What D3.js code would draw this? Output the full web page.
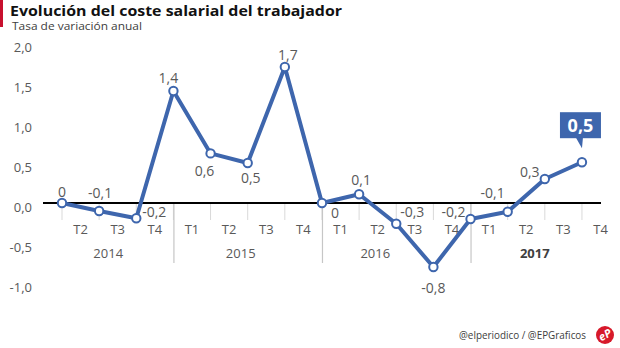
<!DOCTYPE html>
<html><head><meta charset="utf-8">
<script src="https://cdn.jsdelivr.net/npm/d3@7"></script>
<style>html,body{margin:0;padding:0;background:#fff;}svg{display:block;}</style>
</head><body>
<svg id="c" width="620" height="348"></svg>
<script>
// ---- data ----
const quarters = ["T2","T3","T4","T1","T2","T3","T4","T1","T2","T3","T4","T1","T2","T3","T4"];
const years = ["2014","2015","2016","2017"];
const yearStart = [0, 3, 7, 11];           // index of first quarter of each year
const values = [0, -0.1, -0.19, 1.4, 0.62, 0.5, 1.7, 0, 0.11, -0.26, -0.8, -0.2, -0.11, 0.3, 0.51];
const yTicks = [-1.0, -0.5, 0.0, 0.5, 1.0, 1.5, 2.0];
const title = "Evolución del coste salarial del trabajador";
const subtitle = "Tasa de variación anual";
const credit = "@elperiodico / @EPGraficos";

// ---- layout / style ----
const blue = "#3e66ad", grey = "#595959";
const font = "'Open Sans', 'Noto Sans', sans-serif";
// label offsets (dx, dy from point) chosen to match the reference placement
const labelOff = [[0,-11],[1,-18],[18,-6],[-5,-13],[-6,18],[3,15],[3,-12],[13,10],[2,-14],[16,-12],[0,21],[-17,-7],[-15,-19],[-15,-7],null];
const yearDx = [0,-7,-21,-10];

const svg = d3.select("#c").style("font-family", font);
const loc = d3.formatLocale({decimal: ",", thousands: ".", grouping: [3], currency: ["", "€"], minus: "-"});
const f1 = loc.format(".1f");
const lab = v => { const r = Math.round(v*10)/10; return r === 0 ? "0" : f1(r); };

const x = d3.scaleBand().domain(d3.range(quarters.length)).range([62, 619.1]).padding(0);
const y = d3.scaleLinear().domain([-1, 2]).range([283, 43]);
const bw = x.bandwidth();

// title
svg.append("rect").attr("x",0).attr("y",0).attr("width",3).attr("height",27).attr("fill","#c8102e");
svg.append("text").attr("x",10).attr("y",15.8).attr("font-size",14.8).attr("font-weight","bold")
  .attr("fill","#111").attr("textLength",332).attr("lengthAdjust","spacingAndGlyphs").text(title);
svg.append("text").attr("x",12).attr("y",29.5).attr("font-size",11.5).attr("fill","#404040")
  .attr("textLength",130).attr("lengthAdjust","spacingAndGlyphs").text(subtitle);

// y labels
svg.append("g").selectAll("text").data(yTicks).join("text")
  .attr("x",32).attr("y",d=>y(d)+4).attr("dy","0.35em").attr("text-anchor","end")
  .attr("font-size",13).attr("fill",grey).text(d=>f1(d));

// quarter ticks
svg.append("g").selectAll("line").data(d3.range(quarters.length)).join("line")
  .attr("x1",i=>x(i)).attr("x2",i=>x(i)).attr("y1",y(0)).attr("y2",y(0)+17)
  .attr("stroke","#d9d9d9").attr("stroke-width",1);
// year separators
svg.append("g").selectAll("line").data(yearStart.slice(1)).join("line")
  .attr("x1",i=>x(i)+0.5).attr("x2",i=>x(i)+0.5).attr("y1",y(0)).attr("y2",y(0)+60)
  .attr("stroke","#c6c6c6").attr("stroke-width",1.2);

// zero axis line
svg.append("line").attr("x1",43).attr("x2",601).attr("y1",y(0)).attr("y2",y(0))
  .attr("stroke","#000").attr("stroke-width",2);

// quarter labels
svg.append("g").selectAll("text").data(quarters).join("text")
  .attr("x",(d,i)=>x(i)+bw/2).attr("y",y(0)+26).attr("dy","0.35em").attr("text-anchor","middle")
  .attr("font-size",13).attr("fill",grey).text(d=>d);

// year labels
const yearEnd = yearStart.slice(1).map(i=>x(i)).concat([x.range()[1]]);
svg.append("g").selectAll("text").data(years).join("text")
  .attr("x",(d,k)=>((k===0?43:x(yearStart[k])) + yearEnd[k])/2 + yearDx[k])
  .attr("y",y(0)+50).attr("dy","0.35em").attr("text-anchor","middle")
  .attr("font-size",13).attr("font-weight",(d,k)=>k===years.length-1?"bold":"normal")
  .attr("fill",(d,k)=>k===years.length-1?"#404040":grey).text(d=>d);

// line
const line = d3.line().x((d,i)=>x(i)).y(d=>y(d));
svg.append("path").datum(values).attr("d",line).attr("fill","none")
  .attr("stroke",blue).attr("stroke-width",4).attr("stroke-linejoin","round");
svg.append("g").selectAll("circle").data(values).join("circle")
  .attr("cx",(d,i)=>x(i)).attr("cy",d=>y(d)).attr("r",4.2)
  .attr("fill","#fff").attr("stroke",blue).attr("stroke-width",2);

// data labels
svg.append("g").selectAll("text").data(values.map((v,i)=>({v,i})).filter(d=>labelOff[d.i])).join("text")
  .attr("x",d=>x(d.i)+labelOff[d.i][0]).attr("y",d=>y(d.v)+labelOff[d.i][1]).attr("dy","0.35em")
  .attr("text-anchor","middle").attr("font-size",14).attr("fill",grey).text(d=>lab(d.v));

// callout for last value
const li = values.length-1, lx = x(li), ly = y(values[li]);
svg.append("rect").attr("x",lx-22).attr("y",ly-50).attr("width",41).attr("height",26).attr("fill",blue);
svg.append("path").attr("d",`M${lx-6},${ly-24.5}L${lx+1},${ly-24.5}L${lx},${ly-14}Z`).attr("fill",blue);
svg.append("text").attr("x",lx-1.5).attr("y",ly-37).attr("dy","0.35em").attr("text-anchor","middle")
  .attr("font-size",18).attr("font-weight","bold").attr("fill","#fff").text(lab(values[li]));

// credit & logo
svg.append("text").attr("x",586).attr("y",339).attr("text-anchor","end").attr("font-size",11)
  .attr("fill","#404040").attr("textLength",127).attr("lengthAdjust","spacingAndGlyphs").text(credit);
svg.append("circle").attr("cx",605).attr("cy",335).attr("r",9).attr("fill","#d7192a");
svg.append("text").attr("x",605).attr("y",335).attr("dy","0.35em").attr("text-anchor","middle")
  .attr("font-size",11).attr("font-weight","bold").attr("font-style","italic").attr("fill","#fff")
  .attr("transform","rotate(-30,605,335)").text("eP");
</script>
</body></html>
